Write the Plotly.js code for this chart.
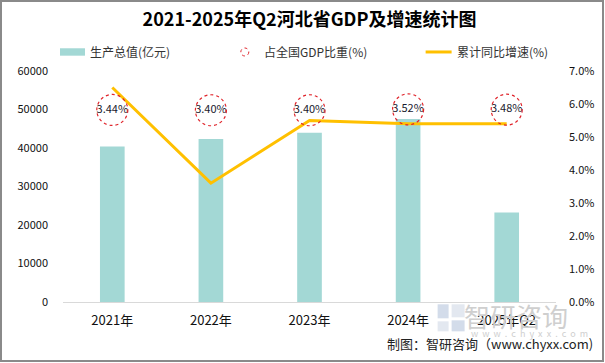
<!DOCTYPE html>
<html><head><meta charset="utf-8">
<script src="https://cdn.plot.ly/plotly-3.0.1.min.js"></script>
<style>
html,body{margin:0;padding:0;background:#fff;}
#wrap{position:relative;width:605px;height:363px;}
#frame{position:absolute;left:0;top:0;width:604px;height:362px;box-sizing:border-box;border:2px solid #8a8a8a;pointer-events:none;}
</style></head>
<body><div id="wrap"><div id="chart" style="width:605px;height:363px;"></div><div id="frame"></div></div>
<script>
const categories = ['2021年','2022年','2023年','2024年','2025年Q2'];
const gdpValues = [40391, 42370, 43944, 47526, 23222];
const shareValues = [3.44, 3.40, 3.40, 3.52, 3.48];
const growthValues = [6.5, 3.6, 5.5, 5.4, 5.4];
const leftTicks = [0,10000,20000,30000,40000,50000,60000];
const rightTicks = [0,1,2,3,4,5,6,7];

const FONT = '"Noto Sans CJK SC", "Noto Sans", sans-serif';
const barColor = '#A3D8D5';
const lineColor = '#FFC000';
const circleColor = '#E0242B';

const traces = [
  {type:'bar', x:categories, y:gdpValues, width:0.25, marker:{color:barColor},
   name:'生产总值(亿元)', yaxis:'y', hoverinfo:'skip'},
  {type:'scatter', mode:'lines', x:categories, y:growthValues, yaxis:'y2',
   line:{color:lineColor, width:3}, name:'累计同比增速(%)', hoverinfo:'skip'},
  {type:'scatter', mode:'text', x:categories, y:shareValues, yaxis:'y3',
   text:shareValues.map(v=>v.toFixed(2)+'%'), textposition:'middle center',
   textfont:{family:FONT, size:11, color:'#1a1a2e'}, name:'占全国GDP比重(%)', hoverinfo:'skip'}
];

const shapes = [];
categories.forEach((c,i)=>{
  shapes.push({type:'circle', xref:'x', yref:'y3', xsizemode:'pixel', ysizemode:'pixel',
    xanchor:c, yanchor:shareValues[i], x0:-15.5, x1:15.5, y0:-15.5, y1:15.5,
    line:{color:circleColor, width:1.2, dash:'dot'}, fillcolor:'rgba(0,0,0,0)', layer:'above'});
});
// legend symbols
shapes.push({type:'rect', xref:'paper', yref:'paper', x0:(60-63)/493.5, x1:(85-63)/493.5,
  y0:(301.7-55.7)/230.7, y1:(301.7-48.3)/230.7, fillcolor:barColor, line:{width:0}});
shapes.push({type:'circle', xref:'paper', yref:'paper', xsizemode:'pixel', ysizemode:'pixel',
  xanchor:(245-63)/493.5, yanchor:(301.7-52)/230.7, x0:-4, x1:4, y0:-4, y1:4,
  line:{color:circleColor, width:1, dash:'dot'}});
shapes.push({type:'line', xref:'paper', yref:'paper', x0:(426-63)/493.5, x1:(452-63)/493.5,
  y0:(301.7-52)/230.7, y1:(301.7-52)/230.7, line:{color:lineColor, width:3}});
// watermark logo blocks
shapes.push({type:'rect', xref:'paper', yref:'paper', x0:(438-63)/493.5, x1:(449-63)/493.5,
  y0:(301.7-318)/230.7, y1:(301.7-304)/230.7, fillcolor:'#d3dcea', line:{width:0}, layer:'below'});
shapes.push({type:'rect', xref:'paper', yref:'paper', x0:(452-63)/493.5, x1:(465-63)/493.5,
  y0:(301.7-331)/230.7, y1:(301.7-320)/230.7, fillcolor:'#d3dcea', line:{width:0}, layer:'below'});
shapes.push({type:'rect', xref:'paper', yref:'paper', x0:(438-63)/493.5, x1:(449-63)/493.5,
  y0:(301.7-331)/230.7, y1:(301.7-321)/230.7, fillcolor:'#e3e8f0', line:{width:0}, layer:'below'});
shapes.push({type:'rect', xref:'paper', yref:'paper', x0:(452-63)/493.5, x1:(465-63)/493.5,
  y0:(301.7-317)/230.7, y1:(301.7-304)/230.7, fillcolor:'#e3e8f0', line:{width:0}, layer:'below'});

const px = x => (x-63)/493.5;
const py = y => (301.7-y)/230.7;
const annotations = [
  {xref:'paper', yref:'paper', x:px(88), y:py(52), xanchor:'left', yanchor:'middle', showarrow:false,
   text:'生产总值(亿元)', font:{family:FONT, size:12, color:'#333'}},
  {xref:'paper', yref:'paper', x:px(262), y:py(52), xanchor:'left', yanchor:'middle', showarrow:false,
   text:'占全国GDP比重(%)', font:{family:FONT, size:12, color:'#333'}},
  {xref:'paper', yref:'paper', x:px(455), y:py(52), xanchor:'left', yanchor:'middle', showarrow:false,
   text:'累计同比增速(%)', font:{family:FONT, size:12, color:'#333'}},
  {xref:'paper', yref:'paper', x:px(516), y:py(315), xanchor:'center', yanchor:'middle', showarrow:false,
   text:'智研咨询', font:{family:FONT, size:26, color:'#cfcfcf'}},
  {xref:'paper', yref:'paper', x:px(530), y:py(333), xanchor:'center', yanchor:'middle', showarrow:false,
   text:'w  w  w  .  c  h  y  x  x  .  c  o  m', font:{family:FONT, size:9, color:'#cfcfcf'}},
  {xref:'paper', yref:'paper', x:px(596), y:py(343), xanchor:'right', yanchor:'middle', showarrow:false,
   text:'制图：智研咨询（www.chyxx.com)', font:{family:FONT, size:13, color:'#222'}}
];

const layout = {
  width:605, height:363,
  margin:{l:63, r:48.5, t:71, b:61.3, pad:0},
  paper_bgcolor:'#fff', plot_bgcolor:'#fff',
  showlegend:false,
  font:{family:FONT, size:11, color:'#222'},
  title:{text:'<b>2021-2025年Q2河北省GDP及增速统计图</b>', x:0.5, xref:'paper', xanchor:'center',
    y:1-20/363, yref:'container', yanchor:'middle', font:{family:FONT, size:18, color:'#000'}},
  xaxis:{type:'category', showgrid:false, showline:true, linecolor:'#d9d9d9', linewidth:1,
    ticks:'', tickfont:{family:FONT, size:13, color:'#111'}, ticklabelstandoff:6, fixedrange:true},
  yaxis:{range:[0,60000], tickvals:leftTicks, ticktext:leftTicks.map(String), showgrid:false, zeroline:false,
    showline:false, ticks:'', tickfont:{family:FONT, size:11, color:'#111'}, ticklabelstandoff:14},
  yaxis2:{range:[0,7], overlaying:'y', side:'right', tickvals:rightTicks,
    ticktext:rightTicks.map(v=>v.toFixed(1)+'%'), showgrid:false, zeroline:false, showline:false,
    ticks:'', tickfont:{family:FONT, size:11, color:'#111'}, ticklabelstandoff:12},
  yaxis3:{range:[-21.5,8.5], overlaying:'y', visible:false, showgrid:false, zeroline:false},
  shapes:shapes,
  annotations:annotations
};

Plotly.newPlot('chart', traces, layout, {staticPlot:true, displayModeBar:false});
</script>
</body></html>
